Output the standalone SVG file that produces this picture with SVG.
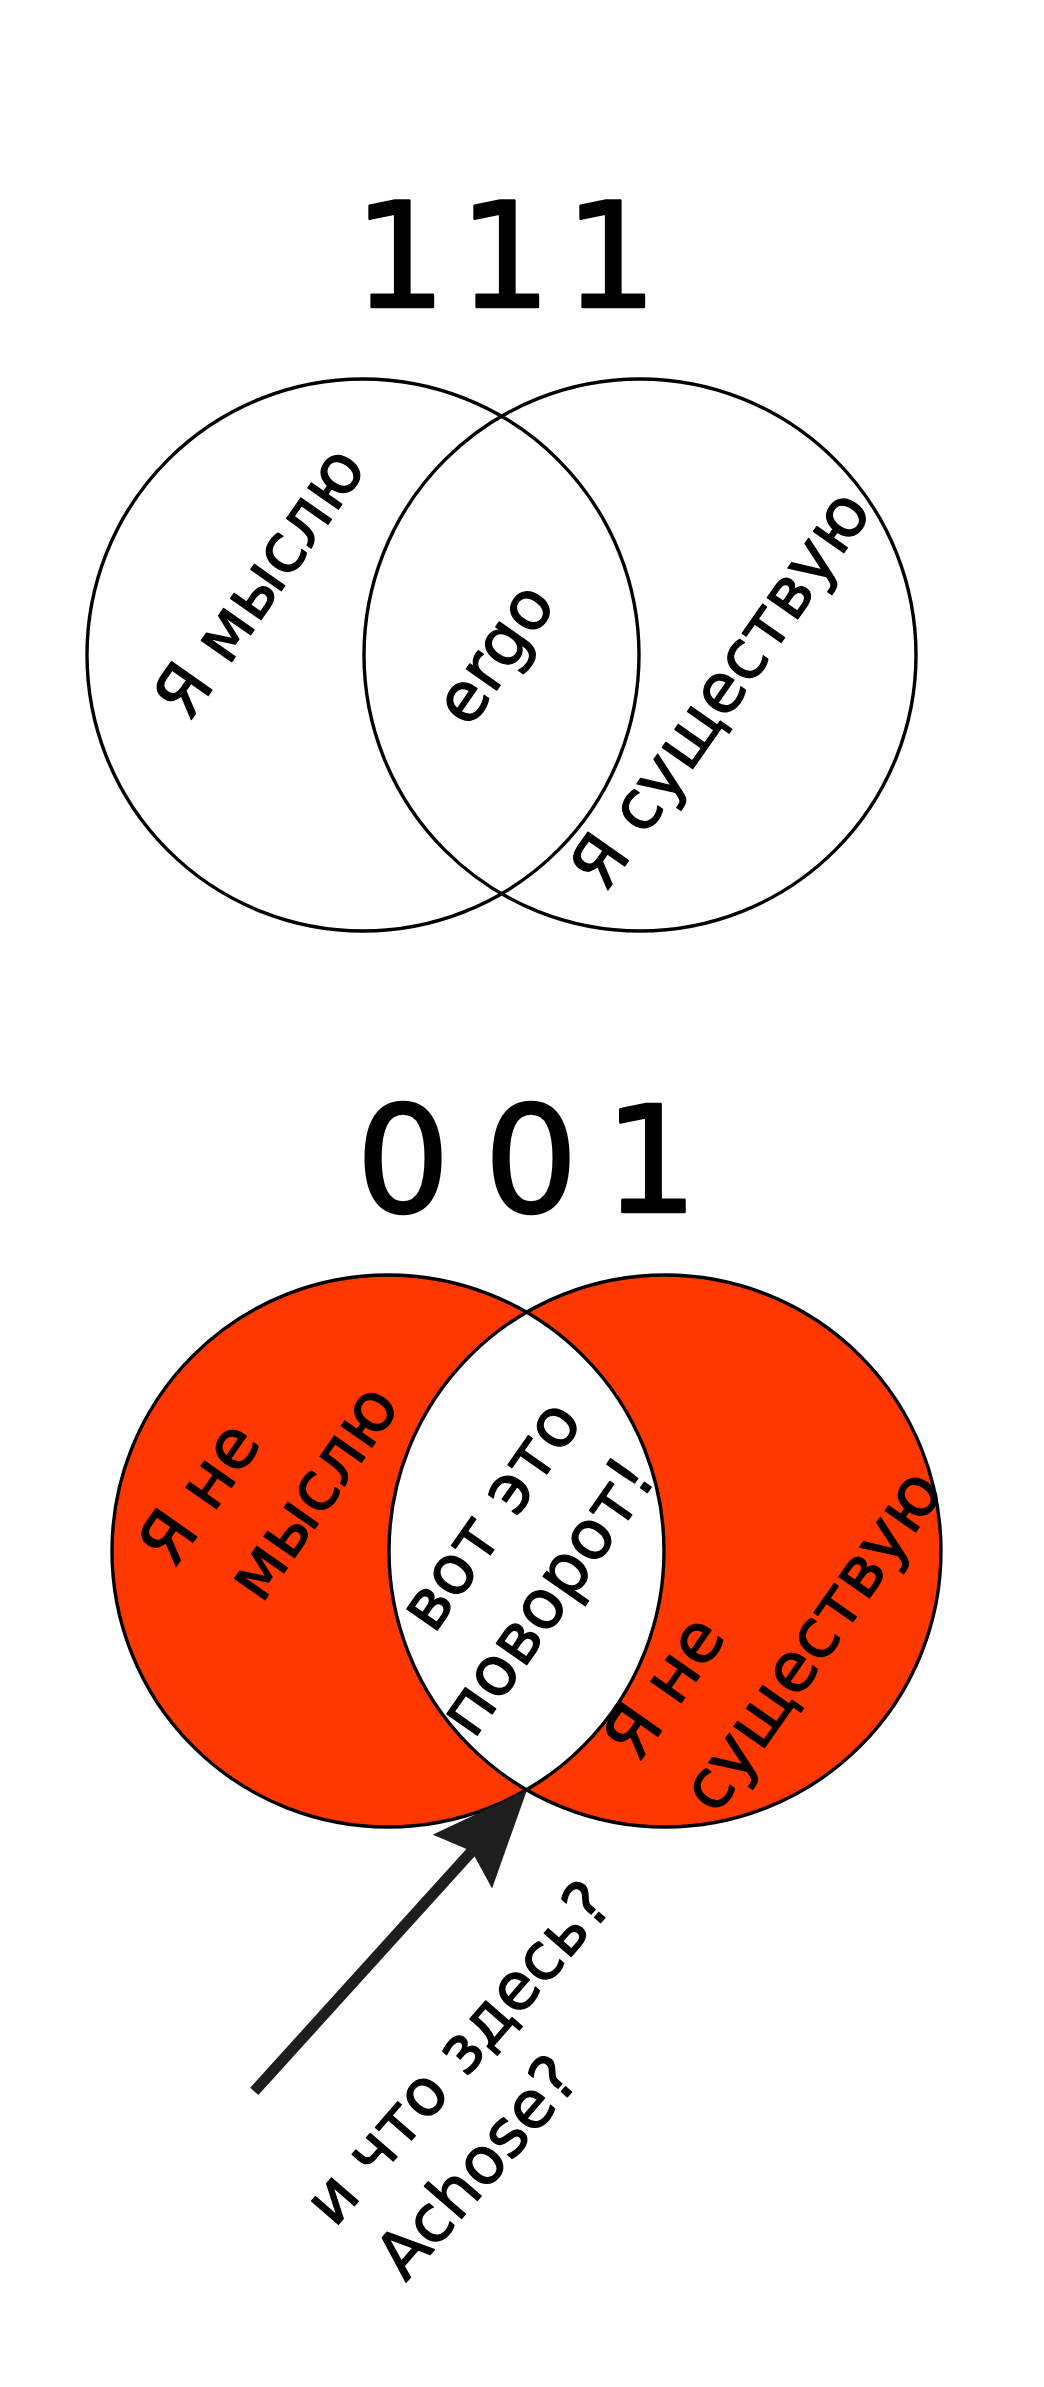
<svg xmlns="http://www.w3.org/2000/svg" width="1044" height="2387" viewBox="0 0 1044 2387">
<style>
  .bg{fill:#ffffff}
  .outline{fill:none;stroke:#000000;stroke-width:3.4}
  .fill{fill:#FF3700;stroke:none}
  .lens{fill:#ffffff;stroke:none}
  .lbl{font-family:"DejaVu Sans","Liberation Sans",sans-serif;font-size:68px;fill:#000000;stroke:#000000;stroke-width:1.3;stroke-linejoin:round;text-anchor:middle}
  .small{font-size:65px}
  .digits{font-family:"DejaVu Sans","Liberation Sans",sans-serif;fill:#000000;stroke:#000000;stroke-width:2.5;stroke-linejoin:round;text-anchor:middle}
  .conn{fill:none;stroke:#1E1E1E;stroke-width:11}
</style>
<defs>
  <marker id="head" markerUnits="userSpaceOnUse" markerWidth="100" markerHeight="90" refX="14" refY="40" orient="auto">
    <path d="M0,0 L96,40 L0,80 L14,40 Z" fill="#1E1E1E"/>
  </marker>
</defs>
<rect class="bg" x="0" y="0" width="1044" height="2387"/>

<g id="title-111">
  <text class="digits" font-size="146" x="400 452 505 558 611" y="307">1 1 1</text>
</g>

<g id="think-111">
  <circle class="outline" cx="363" cy="655" r="276"/>
  <g transform="translate(267.5,588) rotate(-55)"><text class="lbl" x="0" y="13">Я мыслю</text></g>
</g>
<g id="exist-111">
  <circle class="outline" cx="640" cy="655" r="276"/>
  <g transform="translate(728.5,695) rotate(-55)"><text class="lbl" x="0" y="13">Я существую</text></g>
</g>
<g id="ergo-111">
  <g transform="translate(498.5,656.5) rotate(-55)"><text class="lbl" x="0" y="18">ergo</text></g>
</g>

<g id="title-001">
  <text class="digits" font-size="148" x="403 467 531 591 651" y="1212">0 0 1</text>
</g>

<g id="fills-001">
  <circle class="fill" cx="388" cy="1551" r="276"/>
  <circle class="fill" cx="665" cy="1551" r="276"/>
  <path class="lens" d="M526.5,1312.3 A276,276 0 0 1 526.5,1789.7 A276,276 0 0 1 526.5,1312.3 Z"/>
</g>

<g id="think-001">
  <circle class="outline" cx="388" cy="1551" r="276"/>
  <g transform="translate(262,1497) rotate(-55)">
    <text class="lbl"><tspan x="-33" y="-30.5">Я не</tspan><tspan x="33" y="61.5">мыслю</tspan></text>
  </g>
</g>
<g id="exist-001">
  <circle class="outline" cx="665" cy="1551" r="276"/>
  <g transform="translate(744,1668) rotate(-55)">
    <text class="lbl"><tspan x="-61.8" y="-31.6">Я не</tspan><tspan x="61.8" y="62.6">существую</tspan></text>
  </g>
</g>
<g id="twist-001">
  <g transform="translate(519.5,1556.5) rotate(-55)">
    <text class="lbl"><tspan x="17" y="-25">вот это</tspan><tspan x="-17" y="68">поворот!</tspan></text>
  </g>
</g>

<g id="connectors">
  <path class="conn" d="M254.3,2091.4 L471.8,1851.2" marker-end="url(#head)"/>
</g>

<g id="question-label">
  <g transform="translate(470,2112) rotate(-49)">
    <text class="lbl small"><tspan x="36.8" y="-25.6">и что здесь?</tspan><tspan x="-36.8" y="63.6">Achose?</tspan></text>
  </g>
</g>
</svg>
